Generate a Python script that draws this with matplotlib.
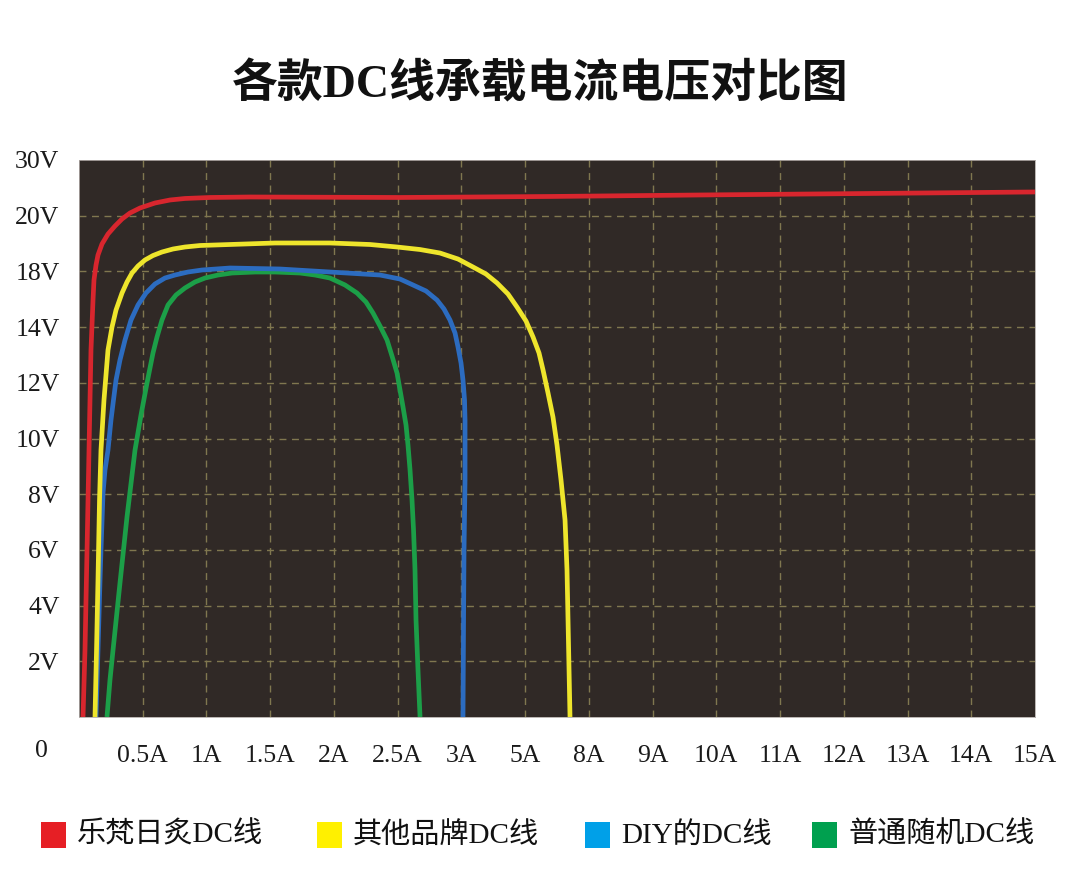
import matplotlib
matplotlib.use("Agg")
import matplotlib.pyplot as plt
from matplotlib.patches import Rectangle

plt.rcParams['font.family'] = ['Liberation Serif', 'Noto Sans CJK SC', 'DejaVu Sans']

title = "各款DC线承载电流电压对比图"
x_labels = ["0.5A", "1A", "1.5A", "2A", "2.5A", "3A", "5A", "8A", "9A",
            "10A", "11A", "12A", "13A", "14A", "15A"]
y_labels = ["2V", "4V", "6V", "8V", "10V", "12V", "14V", "18V", "20V", "30V"]
series_names = ["乐梵日炙DC线", "其他品牌DC线", "DIY的DC线", "普通随机DC线"]

# curve points in axis-slot units (x: slot of the A labels, y: slot of the V labels)
red_x = [0.063, 0.094, 0.126, 0.157, 0.188, 0.220, 0.235, 0.267, 0.298, 0.361, 0.455, 0.565,
         0.675, 0.800, 0.957, 1.192, 1.428, 1.663, 2.056, 2.683, 5.037, 7.39, 9.744, 12.41, 15.0]
red_y = [0.0, 1.203, 2.998, 4.793, 6.589, 7.486, 7.845, 8.115, 8.294, 8.492, 8.671, 8.815,
         8.941, 9.048, 9.138, 9.228, 9.282, 9.309, 9.327, 9.336, 9.327, 9.345, 9.372, 9.399, 9.426]

yel_x = [0.251, 0.275, 0.298, 0.322, 0.345, 0.392, 0.455, 0.518, 0.581, 0.675, 0.753, 0.832,
         0.926, 1.036, 1.161, 1.302, 1.475, 1.663, 1.899, 2.134, 2.605, 3.075, 3.938, 4.566,
         4.990, 5.350, 5.664, 5.947, 6.182, 6.386, 6.559, 6.731, 6.872, 7.014, 7.124, 7.218,
         7.281, 7.359, 7.437, 7.500, 7.563, 7.626, 7.657, 7.673, 7.689, 7.704]
yel_y = [0.0, 1.203, 2.460, 3.896, 4.793, 5.691, 6.589, 7.001, 7.307, 7.612, 7.810, 7.971,
         8.097, 8.205, 8.285, 8.348, 8.402, 8.438, 8.465, 8.474, 8.492, 8.510, 8.510, 8.483,
         8.438, 8.393, 8.330, 8.222, 8.079, 7.953, 7.792, 7.594, 7.361, 7.109, 6.822, 6.535,
         6.230, 5.817, 5.386, 4.883, 4.255, 3.537, 2.639, 1.741, 0.844, 0.0]

blu_x = [0.267, 0.298, 0.330, 0.345, 0.377, 0.408, 0.455, 0.502, 0.541, 0.581, 0.643, 0.722,
         0.816, 0.926, 1.051, 1.192, 1.349, 1.506, 1.710, 1.930, 2.369, 3.154, 3.938,
         4.723, 5.037, 5.241, 5.445, 5.617, 5.727, 5.821, 5.900, 5.947, 5.994, 6.025, 6.049,
         6.057, 6.057, 6.041, 6.033, 6.025]
blu_y = [0.0, 1.203, 2.460, 2.998, 4.021, 4.434, 4.793, 5.332, 5.691, 6.050, 6.409, 6.768,
         7.127, 7.397, 7.612, 7.774, 7.881, 7.935, 7.989, 8.025, 8.061, 8.043, 7.989,
         7.935, 7.863, 7.756, 7.648, 7.486, 7.325, 7.127, 6.894, 6.642, 6.355, 6.050, 5.691,
         5.332, 4.255, 2.998, 1.562, 0.0]

grn_x = [0.439, 0.486, 0.534, 0.643, 0.753, 0.879, 0.973, 1.067, 1.114, 1.161, 1.224, 1.302,
         1.397, 1.522, 1.663, 1.820, 1.977, 2.181, 2.401, 2.762, 3.075, 3.468, 3.703, 3.938,
         4.174, 4.362, 4.503, 4.613, 4.723, 4.833, 4.911, 4.990, 5.037, 5.084, 5.131, 5.162,
         5.194, 5.225, 5.249, 5.272, 5.288, 5.319, 5.351]
grn_y = [0.0, 0.664, 1.203, 2.406, 3.590, 4.793, 5.422, 5.996, 6.266, 6.535, 6.822, 7.127,
         7.397, 7.576, 7.702, 7.810, 7.881, 7.935, 7.971, 7.989, 7.989, 7.971, 7.935, 7.881,
         7.756, 7.612, 7.450, 7.253, 7.019, 6.768, 6.481, 6.175, 5.870, 5.565, 5.242, 4.883,
         4.434, 3.896, 3.357, 2.639, 1.741, 0.844, 0.0]

line_colors = ["#d8262e", "#eee52c", "#2c6cc0", "#1c9f48"]
legend_colors = ["#e61f25", "#fff000", "#00a0e8", "#00a04f"]

W, H = 1080, 882
fig = plt.figure(figsize=(W / 100, H / 100), dpi=100)
fig.patch.set_facecolor("white")

ax = fig.add_axes([79 / W, 1 - 717 / H, (1035 - 79) / W, (717 - 160) / H])
ax.set_facecolor("#302926")
ax.set_xlim(0, len(x_labels))
ax.set_ylim(0, len(y_labels))

ax.set_xticks(range(1, len(x_labels) + 1))
ax.set_xticklabels(x_labels)
ax.set_yticks(range(1, len(y_labels) + 1))
ax.set_yticklabels(y_labels)
ax.tick_params(axis="both", length=0, labelsize=18.5, colors="#1a1a1a")
ax.tick_params(axis="x", pad=20)
ax.tick_params(axis="y", pad=14)

for i in range(1, len(x_labels)):
    ax.axvline(i, color="#80774f", lw=1.0, ls=(0, (5, 4)), zorder=1)
for j in range(1, len(y_labels)):
    ax.axhline(j, color="#80774f", lw=1.0, ls=(0, (5, 4)), zorder=1)

for sp in ax.spines.values():
    sp.set_color("#b0aaa6")
    sp.set_linewidth(0.6)

lw = 3.4
kw = dict(lw=lw, solid_capstyle="butt", solid_joinstyle="round")
ax.plot(grn_x, grn_y, color=line_colors[3], zorder=3, **kw)
ax.plot(blu_x, blu_y, color=line_colors[2], zorder=4, **kw)
ax.plot(yel_x, yel_y, color=line_colors[1], zorder=5, **kw)
ax.plot(red_x, red_y, color=line_colors[0], zorder=6, **kw)

fig.text(41 / W, 1 - 751 / H, "0", ha="center", va="center", fontsize=18.5, color="#1a1a1a")

fig.text(540 / W, 1 - 85 / H, title, ha="center", va="center", fontsize=33,
         fontweight="bold", color="#111111",
         family=["Liberation Serif", "Noto Sans CJK SC", "DejaVu Sans"])

leg_x = [41, 317, 585, 812]
for lx, name, c in zip(leg_x, series_names, legend_colors):
    fig.patches.append(Rectangle((lx / W, 1 - 848 / H), 25 / W, 26 / H,
                                 transform=fig.transFigure, facecolor=c, edgecolor="none"))
    fig.text((lx + 36) / W, 1 - 835 / H, name, ha="left", va="center", fontsize=21,
             color="#111111")

fig.savefig("out.png", dpi=100, facecolor="white")
